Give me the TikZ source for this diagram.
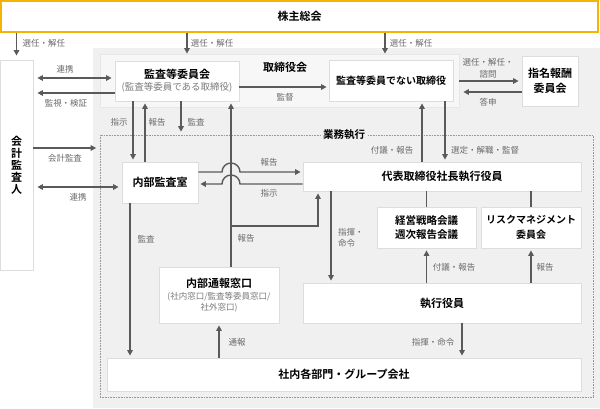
\documentclass[tikz,border=0pt]{standalone}
\usepackage{fontspec}
\setmainfont{Noto Sans CJK JP}[BoldFont={Noto Sans CJK JP Bold}]
\usetikzlibrary{arrows.meta}
\definecolor{bggray}{HTML}{F0F0F0}
\definecolor{torigray}{HTML}{F7F7F7}
\definecolor{bordergray}{HTML}{DDDDDD}
\definecolor{arrowgray}{HTML}{5A5A5A}
\definecolor{labelgray}{HTML}{6A6A6A}
\definecolor{subgray}{HTML}{7A7A7A}
\definecolor{gold}{HTML}{F5B400}
\newcommand\subtxt{\mdseries\fontsize{8.5}{13}\selectfont\color{subgray}}
\newcommand\subtxtb{\mdseries\fontsize{9.5}{13}\selectfont\color{subgray}}
\tikzset{
  box/.style={draw=bordergray, fill=white, line width=0.8pt, inner sep=0pt, align=center,
    font=\bfseries\fontsize{11}{13}\selectfont},
  arr/.style={draw=arrowgray, line width=1.4pt, -{Triangle[length=5.5pt,width=5.5pt]}},
  arrboth/.style={draw=arrowgray, line width=1.4pt, {Triangle[length=5.5pt,width=5.5pt]}-{Triangle[length=5.5pt,width=5.5pt]}},
  plainline/.style={draw=arrowgray, line width=1.4pt},
  lbl/.style={text=labelgray, font=\fontsize{8.5}{11}\selectfont, inner sep=0pt}
}
\begin{document}
\begin{tikzpicture}[x=1pt,y=-1pt]
\useasboundingbox (0,0) rectangle (600,408);
\fill[bggray] (93,48) rectangle (600,408);
% board area
\node[draw=bordergray!70, fill=torigray, line width=0.8pt, minimum width=359pt, minimum height=53pt, inner sep=0pt] (tori) at (279.5,80.5) {};
\node[font=\bfseries\fontsize{11}{13}\selectfont] (torilbl) at (285,67) {取締役会};
% execution area
\node[draw=black!40, line width=0.6pt, dash pattern=on 0.8pt off 0.8pt, minimum width=493pt, minimum height=262pt, inner sep=0pt] (gyomu) at (346.5,266) {};
\node[fill=bggray, inner sep=2pt, font=\bfseries\fontsize{10.5}{12}\selectfont] (gyomulbl) at (344,135) {業務執行};
% boxes
\node[box, draw=gold, line width=1.6pt, minimum width=597pt, minimum height=31pt] (soukai) at (299.5,16.5) {株主総会};
\node[box, minimum width=33pt, minimum height=210pt, font=\bfseries\fontsize{11}{12}\selectfont] (kaikei) at (16.5,165) {会\\計\\監\\査\\人};
\node[box, minimum width=124pt, minimum height=40pt] (kansa) at (177,81) {監査等委員会\\[-1pt]{\subtxtb (監査等委員である取締役)}};
\node[box, minimum width=124pt, minimum height=41pt, font=\bfseries\fontsize{10}{12}\selectfont] (nai) at (391,80.5) {監査等委員でない取締役};
\node[box, minimum width=56pt, minimum height=50pt, font=\bfseries\fontsize{11}{15}\selectfont] (shimei) at (550,81) {指名報酬\\委員会};
\node[box, minimum width=76pt, minimum height=41pt] (naibu) at (160,182.5) {内部監査室};
\node[box, minimum width=278pt, minimum height=29pt] (ceo) at (442,176.5) {代表取締役社長執行役員};
\node[box, minimum width=99pt, minimum height=41pt, font=\bfseries\fontsize{10.5}{14.5}\selectfont] (keiei) at (426.5,227.5) {経営戦略会議\\週次報告会議};
\node[box, minimum width=100pt, minimum height=41pt, font=\bfseries\fontsize{10}{14.5}\selectfont] (risk) at (531,227.5) {リスクマネジメント\\委員会};
\node[box, minimum width=120pt, minimum height=56pt] (tsuho) at (219,295) {内部通報窓口\\[-1pt]{\subtxt (社内窓口/監査等委員窓口/}\\[-2pt]{\subtxt 社外窓口)}};
\node[box, minimum width=278pt, minimum height=40pt] (shikko) at (442,303) {執行役員};
\node[box, minimum width=474pt, minimum height=33pt] (shanai) at (344,374.5) {社内各部門・グループ会社};
% helper coordinates
\coordinate (cA) at (187,0);
\coordinate (cB) at (385,0);
\coordinate (c130) at (130,0);
\coordinate (c133) at (133,0);
\coordinate (c145) at (145,0);
\coordinate (c181) at (181,0);
\coordinate (c231) at (231,0);
\coordinate (c318) at (318,0);
\coordinate (c331) at (331,0);
\coordinate (c422) at (422,0);
\coordinate (c445) at (445,0);
\coordinate (c462) at (462,0);
\coordinate (r78) at (0,78);
\coordinate (r81) at (0,81);
\coordinate (r87) at (0,87);
\coordinate (r92) at (0,92);
\coordinate (r93) at (0,93);
\coordinate (r148) at (0,148);
\coordinate (r172) at (0,172);
\coordinate (r184) at (0,184);
\coordinate (r187) at (0,187);
\coordinate (r226) at (0,226);
\coordinate (hopA) at (222,172);
\coordinate (hopB) at (240,184);
% connectors
\draw[arr, shorten >=4pt] (soukai.south -| kaikei.north) -- (kaikei.north);
\draw[arr] (soukai.south -| cA) -- (tori.north -| cA);
\draw[arr] (soukai.south -| cB) -- (tori.north -| cB);
\draw[arrboth, shorten <=4pt, shorten >=3pt] (kaikei.east |- r78) -- (kansa.west |- r78);
\draw[arr, shorten >=4pt] (kansa.west |- r93) -- (kaikei.east |- r93);
\draw[arr, shorten >=2pt] (kansa.east |- r87) -- (nai.west |- r87);
\draw[arr, shorten <=6pt, shorten >=3pt] (nai.east |- r81) -- (shimei.west |- r81);
\draw[arr, shorten >=10pt] (shimei.west |- r92) -- (nai.east |- r92);
\draw[arr, shorten >=2pt] (kansa.south -| c133) -- (naibu.north -| c133);
\draw[arr, shorten >=2pt] (naibu.north -| c145) -- (kansa.south -| c145);
\draw[arr, shorten >=3pt] (kansa.south -| c181) -- (gyomu.north -| c181);
\draw[arr, shorten >=2pt] (tsuho.north -| c231) -- (kansa.south -| c231);
\draw[arr, shorten >=2pt] (c231 |- r226) -- (c318 |- r226) -- (ceo.south -| c318);
\draw[arr, shorten >=2pt] (naibu.east |- r172) -- (hopA) arc[start angle=180, end angle=0, radius=9pt] -- (ceo.west |- r172);
\draw[arr, shorten >=2pt] (ceo.west |- r184) -- (hopB) arc[start angle=0, end angle=180, radius=9pt] -- (naibu.east |- r184);
\draw[arr, shorten >=3.5pt] (kaikei.east |- r148) -- (gyomu.west |- r148);
\draw[arrboth, shorten <=4pt, shorten >=3pt] (kaikei.east |- r187) -- (naibu.west |- r187);
\draw[arr, shorten >=2pt] (naibu.south -| c130) -- (shanai.north -| c130);
\draw[arr, shorten >=2pt] (ceo.north -| c422) -- (nai.south -| c422);
\draw[arr, shorten >=2pt] (nai.south -| c445) -- (ceo.north -| c445);
\draw[plainline] (ceo.south -| keiei.north) -- (keiei.north);
\draw[plainline] (ceo.south -| risk.north) -- (risk.north);
\draw[arr, shorten >=2pt] (ceo.south -| c331) -- (shikko.north -| c331);
\draw[arr, shorten >=2pt] (shikko.north -| keiei.south) -- (keiei.south);
\draw[arr, shorten >=2pt] (shikko.north -| risk.south) -- (risk.south);
\draw[arr, shorten >=2pt] (shikko.south -| c462) -- (shanai.north -| c462);
\draw[arr, shorten >=2pt] (shanai.north -| tsuho.south) -- (tsuho.south);
% labels
\node[lbl] (l1) at (44,43) {選任・解任};
\node[lbl] (l2) at (212,43) {選任・解任};
\node[lbl] (l3) at (411,43) {選任・解任};
\node[lbl] (l4) at (65,69) {連携};
\node[lbl] (l5) at (66,103) {監視・検証};
\node[lbl] (l6) at (285,97) {監督};
\node[lbl, align=center, font=\fontsize{8.5}{12}\selectfont] (l7) at (488,68) {選任・解任・\\諮問};
\node[lbl] (l8) at (488,102) {答申};
\node[lbl] (l9) at (119,122) {指示};
\node[lbl] (l10) at (157,122) {報告};
\node[lbl] (l11) at (196,122) {監査};
\node[lbl] (l12) at (269,162) {報告};
\node[lbl] (l13) at (269,193) {指示};
\node[lbl] (l14) at (65,158) {会計監査};
\node[lbl] (l15) at (78,197) {連携};
\node[lbl] (l16) at (146,239) {監査};
\node[lbl] (l17) at (246,238) {報告};
\node[lbl] (l18) at (392,150) {付議・報告};
\node[lbl] (l19) at (485,150) {選定・解職・監督};
\node[lbl, anchor=west, align=left, font=\fontsize{8.5}{11}\selectfont] (l20) at (338,238) {指揮・\\命令};
\node[lbl] (l21) at (454,267) {付議・報告};
\node[lbl] (l22) at (545,267) {報告};
\node[lbl] (l23) at (433,342) {指揮・命令};
\node[lbl] (l24) at (237,342) {通報};
\end{tikzpicture}
\end{document}
